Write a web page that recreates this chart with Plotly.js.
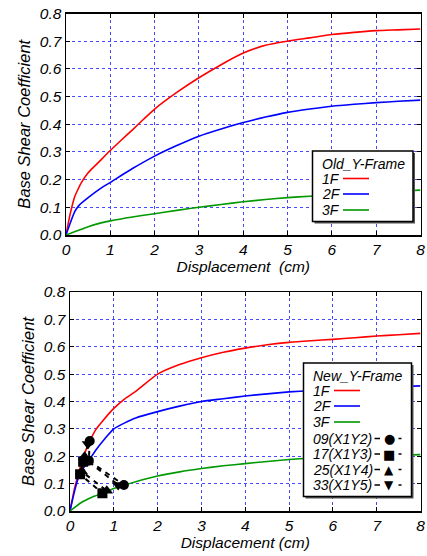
<!DOCTYPE html>
<html><head><meta charset="utf-8">
<script src="https://cdn.plot.ly/plotly-3.0.1.min.js"></script>
<style>html,body{margin:0;padding:0;background:#fff}#chart{width:427px;height:556px}</style>
</head><body><div id="chart"></div>
<script>
// ---- Old_Y-Frame (top) ----
const oldX1F = [0,0.1,0.2,0.25,0.35,0.5,0.75,1,1.25,1.5,1.75,2,2.5,3,3.5,4,4.5,5,5.5,6,6.5,7,7.5,8];
const oldY1F = [0,0.08,0.14,0.158,0.19,0.225,0.265,0.305,0.343,0.38,0.418,0.455,0.515,0.568,0.615,0.657,0.685,0.70,0.712,0.724,0.732,0.738,0.741,0.744];
const oldX2F = [0,0.1,0.2,0.3,0.5,0.75,1,1.5,2,2.5,3,3.5,4,4.5,5,5.5,6,6.5,7,7.5,8];
const oldY2F = [0,0.045,0.085,0.108,0.135,0.165,0.19,0.24,0.285,0.323,0.357,0.383,0.406,0.426,0.443,0.455,0.465,0.472,0.478,0.483,0.487];
const oldX3F = [0,0.25,0.5,0.75,1,1.5,2,2.5,3,3.5,4,4.5,5,5.5,6,6.5,7,7.5,8];
const oldY3F = [0,0.015,0.03,0.042,0.051,0.065,0.077,0.089,0.1,0.11,0.12,0.128,0.135,0.14,0.146,0.151,0.156,0.159,0.162];
// ---- New_Y-Frame (bottom) ----
const newX1F = [0,0.1,0.2,0.3,0.45,0.6,0.75,1,1.25,1.5,2,2.5,3,3.5,4,4.5,5,5.5,6,6.5,7,7.5,8];
const newY1F = [0,0.08,0.14,0.195,0.255,0.3,0.33,0.375,0.41,0.437,0.5,0.535,0.56,0.58,0.595,0.607,0.616,0.622,0.627,0.633,0.639,0.644,0.649];
const newX2F = [0,0.1,0.2,0.3,0.43,0.6,0.8,1,1.25,1.5,2,2.5,3,3.5,4,4.5,5,5.5,6,7,8];
const newY2F = [0,0.07,0.125,0.155,0.185,0.225,0.265,0.3,0.322,0.34,0.363,0.383,0.4,0.41,0.42,0.428,0.435,0.44,0.445,0.451,0.457];
const newX3F = [0,0.1,0.25,0.5,0.75,1,1.25,1.5,2,2.5,3,3.5,4,4.5,5,5.5,6,7,8];
const newY3F = [0,0.012,0.03,0.05,0.065,0.082,0.095,0.107,0.128,0.143,0.155,0.165,0.173,0.181,0.188,0.193,0.197,0.202,0.206];
// marker series (1F, 2F, 3F points)
const m09X = [0.45,0.43,1.23], m09Y = [0.256,0.184,0.095];
const m17X = [0.30,0.23,0.74], m17Y = [0.18,0.134,0.065];
const m25X = [0.33,0.27,0.84], m25Y = [0.198,0.144,0.074];
const m33X = [0.41,0.35,1.10], m33Y = [0.245,0.19,0.095];
const floorNames = ['1F','2F','3F'];
const markerNames = ['09(X1Y2)','17(X1Y3)','25(X1Y4)','33(X1Y5)'];
const markerGlyphs = ['\u25CF','\u25A0','\u25B2','\u25BC'];
const tickVals = [0,0.1,0.2,0.3,0.4,0.5,0.6,0.7,0.8];

const colors = ['#ff0000','#0000ff','#009900'];
const W = 427, H = 556;
const FONT = 'Liberation Sans, Arial, sans-serif';
const px = v => v / W, py = v => 1 - v / H;

function line(x, y, c, xa, ya) {
  return {x, y, xaxis: xa, yaxis: ya, mode: 'lines', line: {color: c, width: 1.6, shape: 'spline', smoothing: 0.6}, showlegend: false, hoverinfo: 'skip'};
}
const symbols = ['circle','square','triangle-up','triangle-down'];
const mX = [m09X, m17X, m25X, m33X], mY = [m09Y, m17Y, m25Y, m33Y];
const traces = [
  line(oldX1F, oldY1F, colors[0], 'x', 'y'),
  line(oldX2F, oldY2F, colors[1], 'x', 'y'),
  line(oldX3F, oldY3F, colors[2], 'x', 'y'),
  line(newX1F, newY1F, colors[0], 'x2', 'y2'),
  line(newX2F, newY2F, colors[1], 'x2', 'y2'),
  line(newX3F, newY3F, colors[2], 'x2', 'y2'),
];
for (let i = 0; i < 4; i++) {
  traces.push({x: mX[i], y: mY[i], xaxis: 'x2', yaxis: 'y2', mode: 'lines+markers',
    line: {color: '#000', width: 2, dash: '5px,5px'},
    marker: {symbol: symbols[i], size: i >= 2 ? 11 : 10, color: '#000'},
    showlegend: false, hoverinfo: 'skip'});
}

function xax(domain, anchor, title) {
  return {domain, anchor, range: [0, 8], dtick: 1, tick0: 0, ticks: 'inside', ticklen: 4, tickcolor: '#000',
    mirror: 'ticks', showline: true, linecolor: '#000', linewidth: 1.5, zeroline: false,
    showgrid: true, gridcolor: '#4848ff', griddash: 'dot', gridwidth: 1,
    tickfont: {family: FONT, size: 15.5, color: '#000', style: 'italic'},
    title: {text: title, font: {family: FONT, size: 15.5, color: '#000', style: 'italic'}, standoff: 4}};
}
function yax(domain, anchor) {
  return {domain, anchor, range: [0, 0.8], tickvals: tickVals, tickformat: '.1f', ticks: 'inside', ticklen: 4, tickcolor: '#000',
    mirror: 'ticks', showline: true, linecolor: '#000', linewidth: 1.5, zeroline: false,
    showgrid: true, gridcolor: '#4848ff', griddash: 'dot', gridwidth: 1,
    tickfont: {family: FONT, size: 15.5, color: '#000', style: 'italic'},
    title: {text: 'Base Shear Coefficient', font: {family: FONT, size: 16.5, color: '#000', style: 'italic'}, standoff: 5}};
}

const shapes = [], annotations = [];
function txt(x, y, t, size) {
  annotations.push({xref: 'paper', yref: 'paper', x: px(x), y: py(y), text: t, showarrow: false,
    xanchor: 'left', yanchor: 'middle', font: {family: FONT, size: size || 14, color: '#000', style: 'italic'}});
}
function seg(x0, x1, y, c, w) {
  shapes.push({type: 'line', xref: 'paper', yref: 'paper', x0: px(x0), x1: px(x1), y0: py(y), y1: py(y), line: {color: c, width: w || 1.6}});
}
function box(x0, y0, x1, y1) {
  shapes.push({type: 'rect', xref: 'paper', yref: 'paper', x0: px(x0 + 2), x1: px(x1 + 2), y0: py(y0 + 2), y1: py(y1 + 2), fillcolor: '#555', line: {width: 0}, layer: 'above'});
  shapes.push({type: 'rect', xref: 'paper', yref: 'paper', x0: px(x0), x1: px(x1), y0: py(y0), y1: py(y1), fillcolor: '#fff', line: {color: '#000', width: 1.5}, layer: 'above'});
}
// top legend
box(312.5, 151, 413, 221.5);
txt(320, 163.5, 'Old_Y-Frame');
const topRows = [178.5, 194, 210];
for (let i = 0; i < 3; i++) { txt(320, topRows[i], floorNames[i]); seg(343, 369, topRows[i], colors[i]); }
// bottom legend
box(303.5, 363, 411.5, 496.5);
txt(311, 375.5, 'New_Y-Frame');
const botRows = [390.5, 406, 422, 438.5, 454, 469.5, 485];
for (let i = 0; i < 3; i++) { txt(311, botRows[i], floorNames[i]); seg(334, 360, botRows[i], colors[i]); }
for (let i = 0; i < 4; i++) {
  const r = botRows[i + 3];
  txt(311, r, markerNames[i]);
  seg(374.5, 380, r, '#000', 1.5);
  seg(398.5, 401.5, r, '#000', 1.5);
  annotations.push({xref: 'paper', yref: 'paper', x: px(389), y: py(r), text: markerGlyphs[i], showarrow: false,
    xanchor: 'center', yanchor: 'middle', font: {family: 'DejaVu Sans', size: i >= 2 ? 12 : 13, color: '#000'}});
}

const layout = {
  width: W, height: H, margin: {l: 0, r: 0, t: 0, b: 0}, paper_bgcolor: '#fff', plot_bgcolor: '#fff',
  showlegend: false,
  xaxis: xax([66 / W, 420.5 / W], 'y', 'Displacement\u00a0 (cm)'),
  yaxis: yax([1 - 235 / H, 1 - 13.5 / H], 'x'),
  xaxis2: xax([70 / W, 420.5 / W], 'y2', 'Displacement (cm)'),
  yaxis2: yax([1 - 511 / H, 1 - 292 / H], 'x2'),
  shapes, annotations
};
Plotly.newPlot('chart', traces, layout, {staticPlot: true, displayModeBar: false});
</script></body></html>
